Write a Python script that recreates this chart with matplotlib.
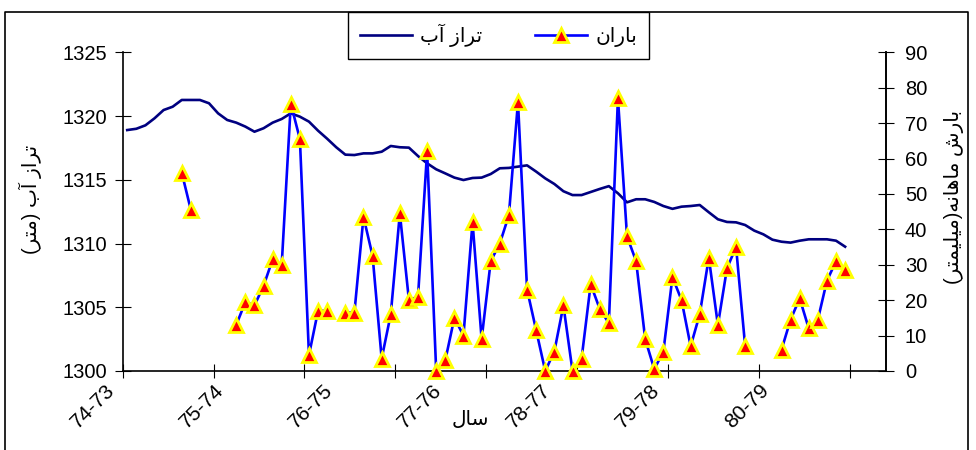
import matplotlib
matplotlib.use('Agg')
import matplotlib.pyplot as plt
import matplotlib.transforms as mtransforms
from matplotlib.lines import Line2D
import numpy as np

plt.rcParams['font.family'] = ['Liberation Sans', 'DejaVu Sans']
plt.rcParams['font.size'] = 14.5

# monthly water level (m), months 0..79
level = [1318.9, 1319.0, 1319.27, 1319.82, 1320.47, 1320.73, 1321.26, 1321.26, 1321.26, 1321.0,
         1320.21, 1319.69, 1319.48, 1319.17, 1318.77, 1319.04, 1319.48, 1319.77, 1320.21, 1319.95,
         1319.56, 1318.85, 1318.22, 1317.55, 1316.97, 1316.94, 1317.07, 1317.07, 1317.2, 1317.65,
         1317.55, 1317.52, 1316.86, 1316.29, 1315.82, 1315.5, 1315.17, 1314.98, 1315.14, 1315.17,
         1315.45, 1315.9, 1315.93, 1316.03, 1316.13, 1315.64, 1315.11, 1314.67, 1314.1, 1313.8,
         1313.8, 1314.04, 1314.28, 1314.5, 1313.94, 1313.23, 1313.47, 1313.47, 1313.26, 1312.94,
         1312.72, 1312.89, 1312.94, 1313.02, 1312.45, 1311.9, 1311.69, 1311.66, 1311.45, 1311.01,
         1310.72, 1310.3, 1310.14, 1310.07, 1310.22, 1310.33, 1310.33, 1310.33, 1310.22, 1309.75]

# monthly rainfall (mm), months 0..83, None = no data
rain = [None, None, None, None, None, None, 56, 45.5, None, None,
        None, None, 13, 19.5, 18.5, 24, 31.5, 30, 75.5, 65.5,
        4.5, 17, 17, None, 16.5, 16.5, 43.5, 32.5, 3.5, 16,
        44.5, 20, 21, 62, 0, 3, 15, 10, 42, 9,
        31, 36, 44, 76, 23, 11.5, 0, 5.5, 18.5, 0,
        3.5, 24.5, 17.5, 13.5, 77, 38, 31, 9, 0.5, 5.5,
        26.5, 20, 7, 16, 32, 13, 29, 35, 7, None,
        None, None, 6, 14.5, 20.5, 12, 14.5, 25.5, 31, 28.5,
        None, None, None, None]

year_labels = ['74-73', '75-74', '76-75', '77-76', '78-77', '79-78', '80-79']
year_pos = [0, 12, 24, 36, 48, 60, 72]

# pre-shaped Persian text (presentation forms, visual order)
lbl_level = '\ufe8f\ufe81 \ufeaf\ufe8d\ufeae\ufe97'
lbl_rain = '\ufee5\ufe8d\ufead\ufe8e\ufe91'
lbl_year = '\ufedd\ufe8e\ufeb3'
ylabel_left = '(\ufeae\ufe98\ufee3) \ufe8f\ufe81 \ufeaf\ufe8d\ufeae\ufe97'
ylabel_right = '(\ufeae\ufe98\ufee4\ufef4\ufee0\ufef4\ufee3)\ufeea\ufee7\ufe8e\ufeeb\ufe8e\ufee3 \ufeb5\ufead\ufe8e\ufe91'

fig = plt.figure(figsize=(9.76, 4.5), dpi=100)
ax = fig.add_axes([0.1257, 0.1756, 0.7821, 0.7082])
ax2 = ax.twinx()

months = np.arange(len(rain))
rain_arr = np.array([np.nan if v is None else v for v in rain], dtype=float)

l1, = ax.plot(months[:len(level)], level, color='#000080', lw=1.9)
l2, = ax2.plot(months, rain_arr, color='#0000ff', lw=1.9, marker='^', ms=10,
               mfc='red', mec='yellow', mew=2, clip_on=False)

ax.set_xlim(-0.5, len(rain) - 0.5)
ax.set_ylim(1300, 1325)
ax2.set_ylim(0, 90)
ax.set_yticks(np.arange(1300, 1326, 5))
ax2.set_yticks(np.arange(0, 91, 10))

ax.set_xticks(np.arange(-0.5, 80, 10))
ax.set_xticks(year_pos, minor=True)
ax.set_xticklabels(year_labels, minor=True, rotation=45, ha='right', va='top', fontsize=15)
ax.tick_params(axis='x', which='major', direction='inout', length=10, labelbottom=False)
ax.tick_params(axis='x', which='minor', length=0, pad=7)
offset = mtransforms.ScaledTranslation(-0.09, 0, fig.dpi_scale_trans)
for t in ax.get_xticklabels(minor=True):
    t.set_transform(t.get_transform() + offset)

ax.tick_params(axis='y', direction='inout', length=11, pad=6)
ax2.tick_params(axis='y', direction='inout', length=11, pad=8)

ax.spines['top'].set_visible(False)
for s in ['top', 'left', 'bottom']:
    ax2.spines[s].set_visible(False)
for a in (ax, ax2):
    for s in a.spines.values():
        s.set_linewidth(1.2)

ax.set_xlabel(lbl_year)
ax.xaxis.set_label_coords((470 - 122.7) / 763.3, (371 - 420) / 318.7)
ax.xaxis.label.set_va('center')

ax.set_ylabel(ylabel_left)
ax.yaxis.set_label_coords(-0.1214, 0.537)
ax.yaxis.label.set_va('center')
ax.yaxis.label.set_ha('center')

ax2.set_ylabel(ylabel_right, rotation=90)
ax2.yaxis.set_label_coords(1.089, 0.546)
ax2.yaxis.label.set_va('center')
ax2.yaxis.label.set_ha('center')

leg = fig.legend([l1, l2], [lbl_level, lbl_rain], loc='upper left',
                 bbox_to_anchor=(348 / 976, 1 - 12 / 450), ncol=2, fancybox=False,
                 edgecolor='black', framealpha=1, handlelength=2.6, handletextpad=0.4,
                 columnspacing=2.6, borderpad=0.6, borderaxespad=0)
leg.get_frame().set_linewidth(1.0)

# outer chart border
fig.add_artist(Line2D([5 / 976, 5 / 976, 968 / 976, 968 / 976], [0, 1 - 12 / 450, 1 - 12 / 450, 0],
                      transform=fig.transFigure, color='black', lw=1.2))

plt.savefig('out.png', dpi=100)
